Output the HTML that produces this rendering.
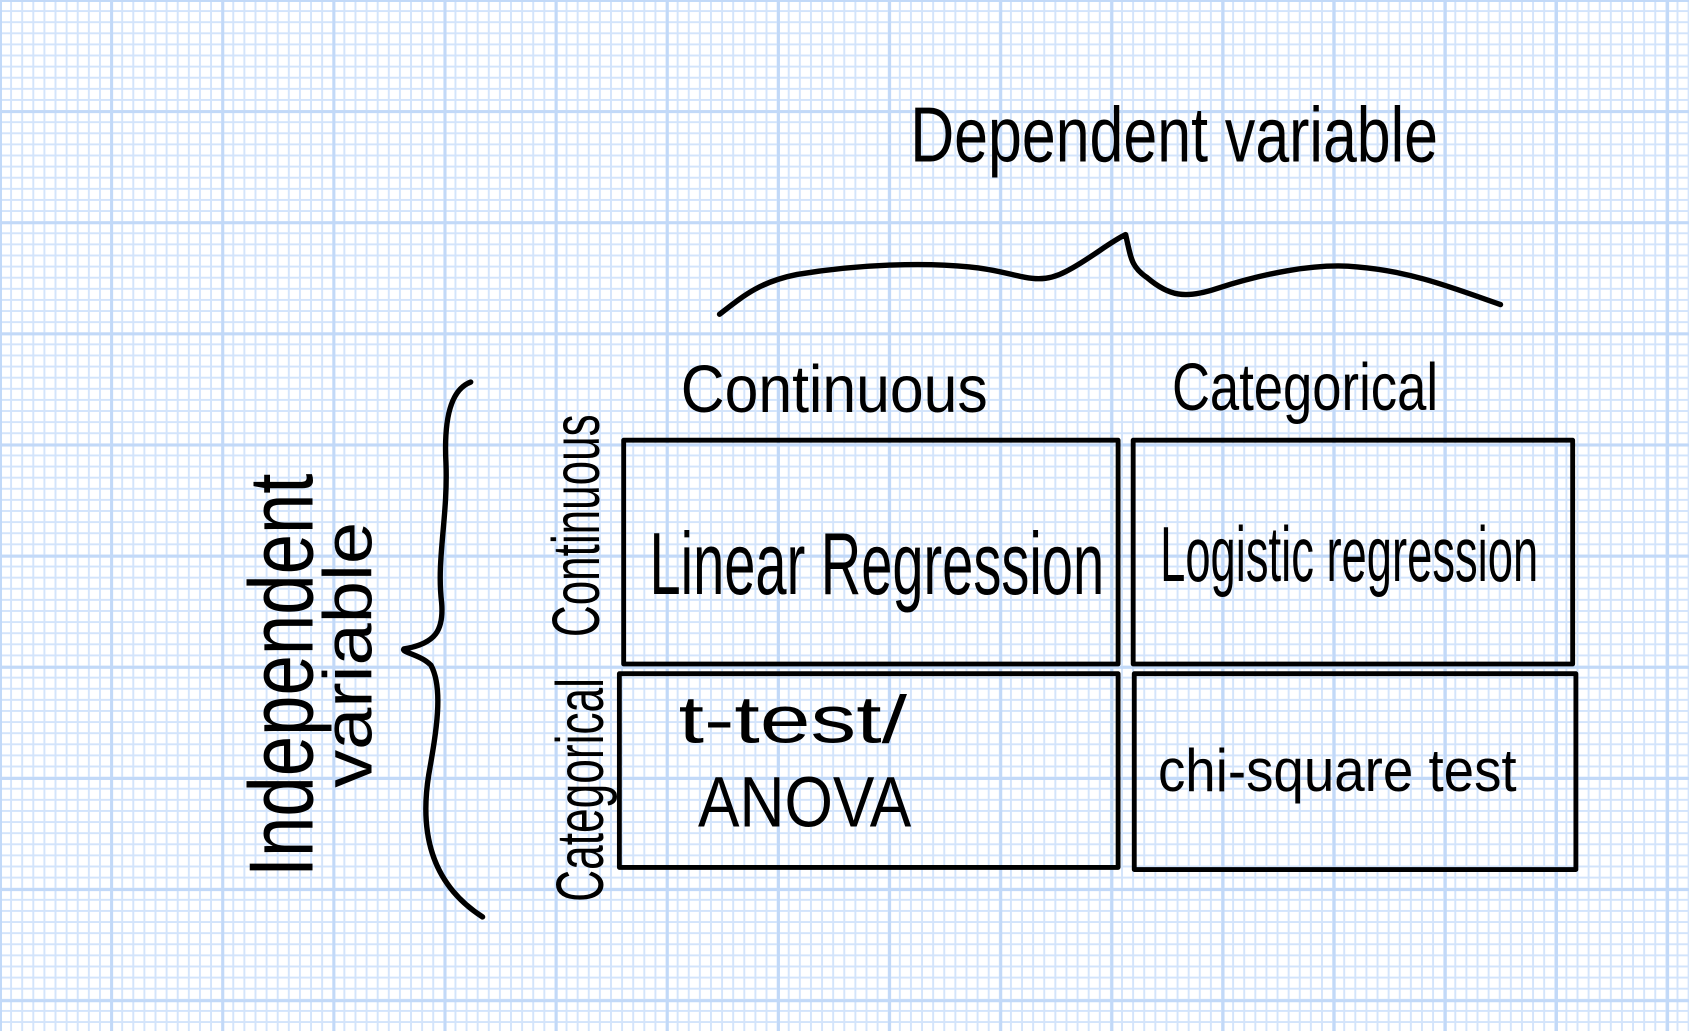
<!DOCTYPE html>
<html><head><meta charset="utf-8"><style>
html,body{margin:0;padding:0}
body{width:1689px;height:1031px;overflow:hidden;background-color:#fff;
background-image:
linear-gradient(to right, #c2d9f8 3px, transparent 3px),
linear-gradient(to bottom, #c2d9f8 3px, transparent 3px),
linear-gradient(to right, #d3e4fb 2px, transparent 2px),
linear-gradient(to bottom, #d3e4fb 2px, transparent 2px);
background-size:111.15px 111.15px,111.15px 111.15px,11.115px 11.115px,11.115px 11.115px;
background-position:-1px -1px,-1px -1px,-1px -1px,-1px -1px;}
svg{position:absolute;left:0;top:0}
text{font-family:"Liberation Sans Narrow","Liberation Sans",sans-serif;fill:#000}
</style></head><body>
<svg width="1689" height="1031" viewBox="0 0 1568 958" preserveAspectRatio="none">
<g fill="none" stroke="#000" stroke-width="4.5" stroke-linecap="round" stroke-linejoin="round">
<rect x="579" y="409" width="459" height="208"/>
<rect x="1052" y="409" width="408" height="208"/>
<rect x="575" y="626" width="463" height="180"/>
<rect x="1053" y="626" width="410" height="182"/>
</g>
<g fill="none" stroke="#000" stroke-width="5" stroke-linecap="round" stroke-linejoin="round">
<path d="M668,292 C690,275 705,262 740,255 C800,245 860,244 900,248 C945,252 960,268 990,252 C1010,242 1030,225 1045,218 C1050,240 1050,248 1065,258 C1085,275 1100,278 1130,268 C1170,255 1220,244 1260,248 C1310,252 1350,268 1393,283"/>
<path d="M437,355 C418,362 412,390 414,430 C416,480 405,520 410,560 C412,585 405,598 375,603 C372,606 390,608 400,618 C412,640 405,680 398,720 C390,770 398,820 448,852"/>
</g>
<text x="845" y="150" font-size="72" textLength="490" lengthAdjust="spacingAndGlyphs">Dependent variable</text>
<text x="632" y="383" font-size="62" textLength="285" lengthAdjust="spacingAndGlyphs">Continuous</text>
<text x="1088" y="381" font-size="62" textLength="247" lengthAdjust="spacingAndGlyphs">Categorical</text>
<text x="603" y="552" font-size="82" textLength="422" lengthAdjust="spacingAndGlyphs">Linear Regression</text>
<text x="1077" y="540" font-size="72" textLength="351" lengthAdjust="spacingAndGlyphs">Logistic regression</text>
<text x="630" y="690" font-size="62" textLength="212" lengthAdjust="spacingAndGlyphs">t-test/</text>
<text x="648" y="768" font-size="66" textLength="198" lengthAdjust="spacingAndGlyphs">ANOVA</text>
<text x="1075" y="735" font-size="56" textLength="333" lengthAdjust="spacingAndGlyphs">chi-square test</text>
<text transform="translate(290,815) rotate(-90)" font-size="84" textLength="375" lengthAdjust="spacingAndGlyphs">Independent</text>
<text transform="translate(345,732) rotate(-90)" font-size="64" textLength="247" lengthAdjust="spacingAndGlyphs">variable</text>
<text transform="translate(556,592) rotate(-90)" font-size="62" textLength="207" lengthAdjust="spacingAndGlyphs">Continuous</text>
<text transform="translate(560,838) rotate(-90)" font-size="62" textLength="208" lengthAdjust="spacingAndGlyphs">Categorical</text>
</svg>
</body></html>
